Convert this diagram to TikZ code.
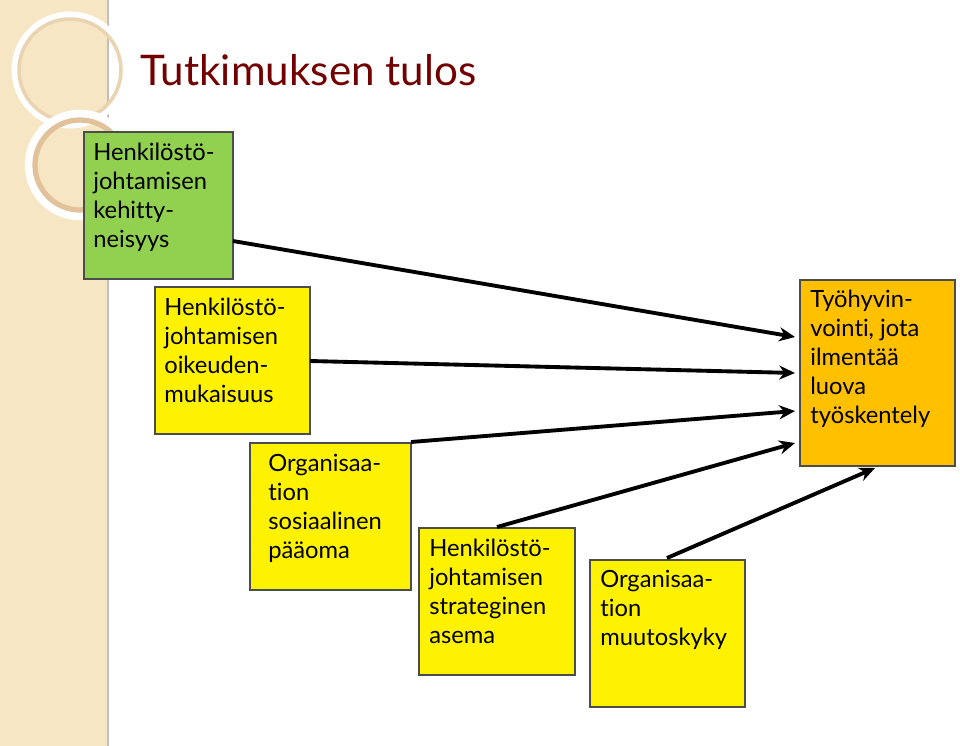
\documentclass[tikz,border=0pt]{standalone}
\usepackage{fontspec}
\setmainfont[Ligatures={NoCommon,NoRare}]{Lato}
\usetikzlibrary{arrows.meta}
\definecolor{gr}{HTML}{92D050}
\definecolor{org}{HTML}{FFC000}
\definecolor{strip}{HTML}{F7E6C4}
\definecolor{ring}{HTML}{E9D3B0}
\begin{document}
\begin{tikzpicture}[x=0.02cm,y=-0.02cm,
 box/.style={draw=black!70,line width=0.8pt},
 txt/.style={anchor=north west,align=left,font=\fontsize{13.5}{16.5}\selectfont,inner sep=0pt},
 arr/.style={line width=2.2pt,-{Stealth[length=9pt,width=8pt]}}]
\useasboundingbox (0,0) rectangle (960,746);
\fill[white] (0,0) rectangle (960,746);
\fill[strip] (0,0) rectangle (108,746);
\draw[black!25,line width=1pt] (108,0) -- (108,746);
\draw[white,line width=4pt] (70,70) circle (55);
\draw[ring,line width=2pt] (70,70) circle (51);
\draw[white,line width=6pt] (80,165) circle (50);
\draw[ring!80!brown,line width=3pt] (80,165) circle (45);
\node[anchor=west,inner sep=0pt,text=red!45!black,font=\fontsize{24}{28}\selectfont] (title) at (140,70) {Tutkimuksen tulos};
\fill[gr] (84,132) rectangle (233,279);
\draw[box] (84,132) rectangle (233,279);
\node[txt] at (93,143) {Henkilöstö-\\johtamisen\\kehitty-\\neisyys};
\fill[yellow] (155,287) rectangle (310,434); \draw[box] (155,287) rectangle (310,434);
\node[txt] at (164,298) {Henkilöstö-\\johtamisen\\oikeuden-\\mukaisuus};
\fill[yellow] (250,443) rectangle (411,590); \draw[box] (250,443) rectangle (411,590);
\node[txt] at (268,454) {Organisaa-\\tion\\sosiaalinen\\pääoma};
\fill[yellow] (419,528) rectangle (575,675); \draw[box] (419,528) rectangle (575,675);
\node[txt] at (429,539) {Henkilöstö-\\johtamisen\\strateginen\\asema};
\fill[yellow] (590,560) rectangle (745,707); \draw[box] (590,560) rectangle (745,707);
\node[txt] at (600,570) {Organisaa-\\tion\\muutoskyky};
\fill[org] (800,280) rectangle (955,466); \draw[box] (800,280) rectangle (955,466);
\node[txt] at (810,290) {Työhyvin-\\vointi, jota\\ilmentää\\luova\\työskentely};
\coordinate (s1) at (233,241); \coordinate (e1) at (795,337);
\coordinate (s2) at (310,361); \coordinate (e2) at (795,373);
\coordinate (s3) at (411,442); \coordinate (e3) at (795,411);
\coordinate (s4) at (497,527); \coordinate (e4) at (795,443);
\coordinate (s5) at (667,558); \coordinate (e5) at (875,468);
\foreach \i in {1,...,5} \draw[arr] (s\i) -- (e\i);
\end{tikzpicture}
\end{document}
